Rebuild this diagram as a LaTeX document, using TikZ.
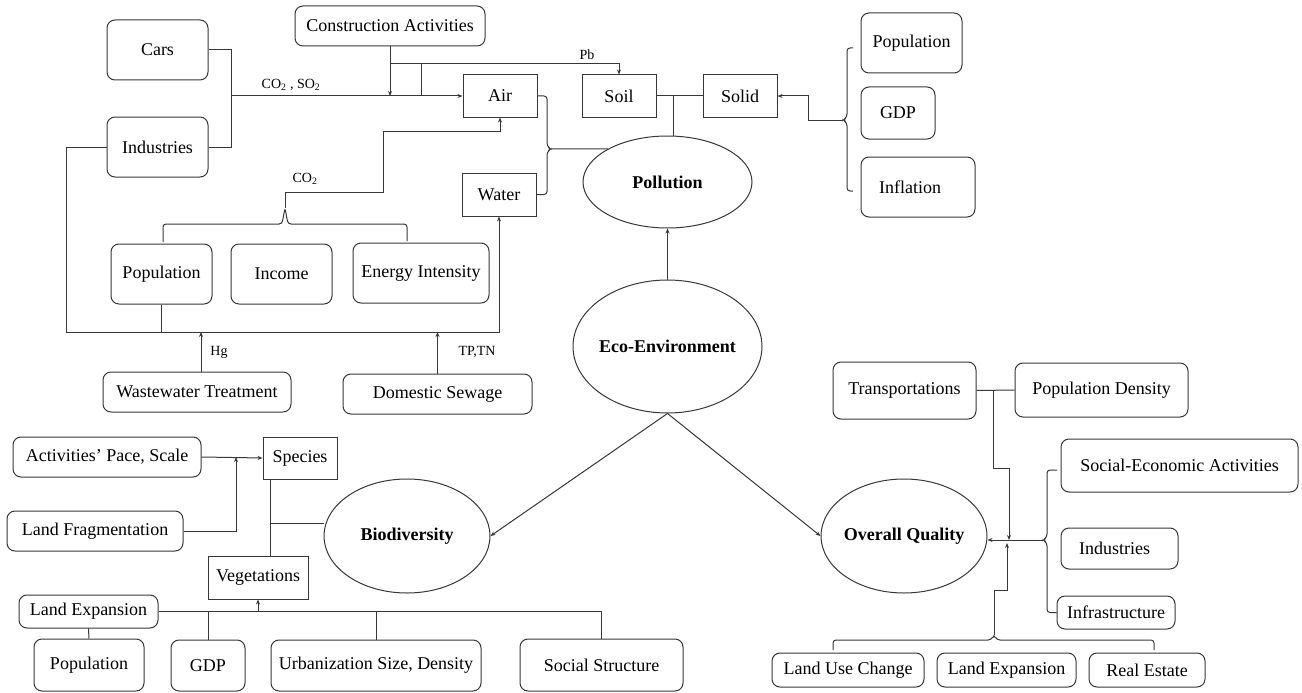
\documentclass[tikz,border=0pt]{standalone}
\usepackage{fontspec}
\setmainfont{Liberation Serif}
\usetikzlibrary{shapes.geometric,arrows.meta}
\definecolor{ln}{RGB}{55,55,55}
\begin{document}
\begin{tikzpicture}[x=1pt,y=-1pt,
 every node/.style={font=\fontsize{18}{20}\selectfont, inner sep=0pt},
 sz/.style 2 args={minimum width=#1pt,minimum height=#2pt},
 rbox/.style={draw=ln, line width=1pt, rounded corners=8pt},
 sbox/.style={draw=ln, line width=1pt},
 ell/.style={draw=ln, line width=1pt, ellipse, font=\fontsize{18}{20}\selectfont\bfseries},
 conn/.style={draw=ln, line width=1pt},
 arr/.style={conn, -{Stealth[length=5pt,width=4pt]}},
 brc/.style={conn, rounded corners=3pt},
 lab/.style={font=\fontsize{14}{16}\selectfont}]
\useasboundingbox (0,0) rectangle (1302,693);

% ---- nodes ----
\node[rbox,sz={101}{60}] (cars) at (157.5,50) {Cars};
\node[rbox,sz={101}{60}] (ind) at (157.5,147) {Industries};
\node[rbox,sz={190}{40}] (cons) at (390,26) {Construction Activities};
\node[sbox,sz={74}{42}] (air) at (500,96) {Air};
\node[sbox,sz={74}{42}] (soil) at (619,96) {Soil};
\node[sbox,sz={74}{42}] (solid) at (740,96) {Solid};
\node[rbox,sz={101}{60}] (popA) at (911.5,43) {Population};
\node[rbox,sz={74}{52}] (gdpA) at (898,113) {GDP};
\node[rbox,sz={114}{60}] (infl) at (918,187) {Inflation\hspace*{16pt}};
\node[sbox,sz={74}{43}] (water) at (499,194.5) {Water};
\node[ell,sz={169}{92}] (pol) at (667.5,182) {\makebox[0pt]{Pollution}};
\node[rbox,sz={101}{60}] (popB) at (161.5,274) {Population};
\node[rbox,sz={101}{60}] (inc) at (281.5,274) {Income};
\node[rbox,sz={136}{60}] (ene) at (421,273) {Energy Intensity};
\node[ell,sz={189}{133}] (eco) at (667.5,346.5) {\makebox[0pt]{Eco-Environment}};
\node[rbox,sz={188}{40}] (wwt) at (197,392) {Wastewater Treatment};
\node[rbox,sz={189}{40}] (dsew) at (437.5,394) {Domestic Sewage};
\node[rbox,sz={188}{40}] (act) at (107,457) {Activities’ Pace, Scale};
\node[sbox,sz={74}{42}] (spec) at (300,458) {Species};
\node[rbox,sz={176}{40}] (lfrag) at (95,531) {Land Fragmentation};
\node[ell,sz={166}{114}] (bio) at (407,536) {\makebox[0pt]{Biodiversity}};
\node[sbox,sz={100}{43}] (veg) at (258,577.5) {Vegetations};
\node[rbox,sz={139}{33}] (lexA) at (88.5,611.5) {Land Expansion};
\node[rbox,sz={110}{52}] (popC) at (89,665) {Population};
\node[rbox,sz={74}{51}] (gdpC) at (208,665.5) {GDP};
\node[rbox,sz={210}{51}] (urb) at (376,665.5) {Urbanization Size, Density};
\node[rbox,sz={163}{52}] (soc) at (601.5,665) {Social Structure};
\node[rbox,sz={143}{57}] (trans) at (904.5,390.5) {Transportations};
\node[rbox,sz={173}{54}] (popd) at (1101.5,390) {Population Density};
\node[rbox,sz={237}{53}] (sec) at (1179.5,465.5) {Social-Economic Activities};
\node[rbox,sz={117}{41}] (indB) at (1119.5,548.5) {Industries\hspace*{10pt}};
\node[rbox,sz={118}{33}] (infra) at (1116,612.5) {Infrastructure};
\node[ell,sz={166}{114}] (oq) at (904,536) {\makebox[0pt]{Overall Quality}};
\node[rbox,sz={152}{34}] (luc) at (848,670) {Land Use Change};
\node[rbox,sz={139}{34}] (lexB) at (1006.5,670) {Land Expansion};
\node[rbox,sz={116}{34}] (real) at (1147,670) {Real Estate};

% ---- labels ----
\node[lab] (lco) at (291,85) {CO\textsubscript{2} , SO\textsubscript{2}};
\node[lab] (lpb) at (587,55) {Pb};
\node[lab] (lco2) at (305,179) {CO\textsubscript{2}};
\node[lab] (lhg) at (219,352) {Hg};
\node[lab] (ltp) at (477,352) {TP,TN};

% ---- coordinates ----
\coordinate (j1) at (231,96);
\coordinate (c1) at (390,64);
\coordinate (c2) at (421,64);
\coordinate (ps) at (673,96);
\coordinate (tipS) at (843,120);
\coordinate (tipA) at (551,149);
\coordinate (tipC) at (285,208);
\coordinate (b1) at (66,332);
\coordinate (b2) at (499,332);
\coordinate (aj) at (236,457);
\coordinate (bj) at (270,523);
\coordinate (tj) at (993,390.5);
\coordinate (tipB) at (994,635);
\coordinate (tipR) at (1043,540);

% ---- air sources ----
\draw[conn] (cars.east) -| (j1);
\draw[conn] (ind.east) -| (j1);
\draw[arr] (j1) -- (air.west);
\draw[arr] (cons.south) -- (cons.south |- j1);
\draw[arr] (c1) -| (soil.north);
\draw[conn] (c2) -- (c2 |- j1);

% ---- soil / solid ----
\draw[conn] (soil.east) -- (solid.west);
\draw[conn] (ps) -- (ps |- pol.north);
\draw[brc] (853,48) -- (847,48) -- (847,117) -- (tipS) -- (847,123) -- (847,191) -- (853,191);
\draw[arr] (tipS) -- (808,120) -- (808,96) -- (solid.east);

% ---- air / water brace to pollution ----
\draw[brc] (air.east) -- (547,96) -- (547,146) -- (tipA) -- (547,152) -- (547,194.5) -- (water.east);
\draw[conn] (tipA) -- (pol.151);

% ---- CO2 brace ----
\draw[brc] (163,242) -- (163,224) -- (282,224) -- (tipC) -- (288,224) -- (407,224) -- (407,241);
\draw[arr] (tipC) -- (285,192) -| (383,131) -| (air.south);

% ---- water loop ----
\draw[arr] (ind.west) -| (b1) -- (b2) -- (water.south);
\draw[conn] (popB.south) -- (popB.south |- b1);
\draw[arr] ([xshift=4pt]wwt.north) -- ([xshift=4pt]wwt.north |- b1);
\draw[arr] (dsew.north) -- (dsew.north |- b1);

% ---- eco-environment ----
\draw[arr] (eco.north) -- (pol.south);
\draw[arr] (eco.south) -- (bio.east);
\draw[arr] (eco.south) -- (oq.west);

% ---- biodiversity ----
\draw[arr] (act.east) -- (spec.west);
\draw[arr] (lfrag.east) -| (aj);
\draw[conn] ([xshift=-30pt]spec.south) -- ([xshift=12pt]veg.north);
\draw[conn] (bj) -- (bio.west |- bj);
\draw[conn] (lexA.east) -- (soc.north |- lexA.east) -- (soc.north);
\draw[conn] (gdpC.north |- lexA.east) -- (gdpC.north);
\draw[conn] (urb.north |- lexA.east) -- (urb.north);
\draw[arr] (veg.south |- lexA.east) -- (veg.south);
\draw[conn] (lexA.south) -- (popC.north);

% ---- overall quality ----
\draw[conn] (trans.east) -- (popd.west);
\draw[arr] (tj) -- (993,468) -| (1009,540);
\draw[brc] (833,650) -- (833,640) -- (991,640) -- (tipB) -- (997,640) -- (1154,640) -- (1154,650);
\draw[arr] (tipB) -- (994,590) -| (1007,543);
\draw[brc] (1057,470) -- (1047,470) -- (1047,537) -- (tipR) -- (1047,543) -- (1047,612.5) -- (infra.west);
\draw[arr] (tipR) -- (oq.east |- tipR);
\end{tikzpicture}
\end{document}
